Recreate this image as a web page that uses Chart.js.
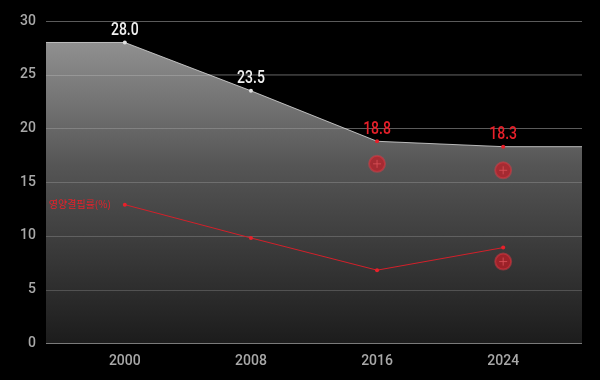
<!DOCTYPE html>
<html><head><meta charset="utf-8">
<script src="https://cdn.jsdelivr.net/npm/chart.js@4/dist/chart.umd.min.js"></script>
<style>html,body{margin:0;padding:0;background:#000;}#wrap{width:600px;height:380px;}</style>
</head><body><div id="wrap"><canvas id="c" width="600" height="380"></canvas></div>
<script>
const years = [2000, 2008, 2016, 2024];
const areaValues = [28.0, 23.5, 18.8, 18.3];
const areaLabels = ['28.0', '23.5', '18.8', '18.3'];
const redValues = [12.9, 9.8, 6.8, 8.9];
const redLineLabel = '영양결핍률(%)';
const markerYears = [2016, 2024, 2024];
const markerValues = [16.7, 16.1, 7.6];
const yTicks = [0, 5, 10, 15, 20, 25, 30];

const FONT = 'Roboto, "DejaVu Sans", sans-serif';

const areaPlugin = {
  id: 'areaPlugin',
  beforeDatasetsDraw(chart) {
    const {ctx, chartArea, scales} = chart;
    const x = scales.x, y = scales.y;
    const pts = years.map((yr, i) => [x.getPixelForValue(yr), y.getPixelForValue(areaValues[i])]);
    const bottom = y.getPixelForValue(0);
    const grad = ctx.createLinearGradient(0, y.getPixelForValue(30), 0, bottom);
    grad.addColorStop(0, '#9a9a9a');
    grad.addColorStop(0.45, '#555555');
    grad.addColorStop(1, '#1c1c1c');
    ctx.save();
    ctx.beginPath();
    ctx.moveTo(chartArea.left, bottom);
    ctx.lineTo(chartArea.left, pts[0][1]);
    pts.forEach(p => ctx.lineTo(p[0], p[1]));
    ctx.lineTo(chartArea.right, pts[pts.length - 1][1]);
    ctx.lineTo(chartArea.right, bottom);
    ctx.closePath();
    ctx.fillStyle = grad;
    ctx.fill();
    ctx.beginPath();
    ctx.moveTo(chartArea.left, pts[0][1]);
    pts.forEach(p => ctx.lineTo(p[0], p[1]));
    ctx.lineTo(chartArea.right, pts[pts.length - 1][1]);
    ctx.strokeStyle = 'rgba(220,220,220,0.8)';
    ctx.lineWidth = 1;
    ctx.stroke();
    ctx.beginPath();
    ctx.rect(chartArea.left, chartArea.top, chartArea.width, bottom - chartArea.top);
    ctx.clip();
    yTicks.forEach(t => {
      if (t === 0) return;
      const py = Math.round(y.getPixelForValue(t)) + 0.5;
      ctx.beginPath();
      ctx.moveTo(chartArea.left, py);
      ctx.lineTo(chartArea.right, py);
      ctx.strokeStyle = 'rgba(255,255,255,0.18)';
      ctx.lineWidth = 1;
      ctx.stroke();
    });
    ctx.restore();
  },
  afterDatasetsDraw(chart) {
    const {ctx, scales} = chart;
    const x = scales.x, y = scales.y;
    ctx.save();
    ctx.font = '500 18px ' + FONT;
    ctx.textAlign = 'center';
    ctx.textBaseline = 'bottom';
    years.forEach((yr, i) => {
      ctx.save();
      ctx.translate(x.getPixelForValue(yr), y.getPixelForValue(areaValues[i]) - 3);
      ctx.scale(0.78, 1);
      ctx.fillStyle = i < 2 ? '#f0f0f0' : '#e8202a';
      ctx.fillText(areaLabels[i], 0, 0);
      ctx.restore();
    });
    ctx.font = '10px "Noto Sans CJK KR", sans-serif';
    ctx.textAlign = 'right';
    ctx.textBaseline = 'middle';
    ctx.fillStyle = '#e8202a';
    ctx.fillText(redLineLabel, x.getPixelForValue(years[0]) - 14, y.getPixelForValue(redValues[0]));
    ctx.restore();
  }
};

new Chart(document.getElementById('c'), {
  type: 'line',
  data: {
    datasets: [
      {
        data: years.map((yr, i) => ({x: yr, y: areaValues[i]})),
        showLine: false,
        pointRadius: 2,
        pointBackgroundColor: areaValues.map((v, i) => i < 2 ? '#e0e0e0' : '#e8202a'),
        pointBorderWidth: 0
      },
      {
        data: years.map((yr, i) => ({x: yr, y: redValues[i]})),
        borderColor: '#d3202a',
        borderWidth: 1,
        pointRadius: 2,
        pointBackgroundColor: '#e8202a',
        pointBorderWidth: 0,
        tension: 0
      },
      {
        data: markerYears.map((yr, i) => ({x: yr, y: markerValues[i]})),
        showLine: false,
        pointRadius: 8,
        pointBackgroundColor: 'rgba(200,25,35,0.7)',
        pointBorderColor: 'rgba(230,60,70,0.45)',
        pointBorderWidth: 2
      },
      {
        data: markerYears.map((yr, i) => ({x: yr, y: markerValues[i]})),
        showLine: false,
        pointStyle: 'cross',
        pointRadius: 4,
        pointBorderColor: 'rgba(255,200,200,0.85)',
        pointBorderWidth: 1
      }
    ]
  },
  options: {
    responsive: false,
    animation: false,
    layout: {padding: {top: 21, right: 18, bottom: 0, left: 0}},
    plugins: {legend: {display: false}, tooltip: {enabled: false}},
    scales: {
      x: {
        type: 'linear',
        min: 1995,
        max: 2029,
        afterBuildTicks(s) { s.ticks = years.map(v => ({value: v})); },
        grid: {display: false, drawTicks: false},
        border: {display: false},
        ticks: {color: '#a8a8a8', font: {family: FONT, size: 14, weight: '500'}, padding: 10,
          callback: v => String(v)}
      },
      y: {
        min: 0,
        max: 30,
        afterBuildTicks(s) { s.ticks = yTicks.map(v => ({value: v})); },
        afterFit(s) { s.width = 46; },
        grid: {
          color: ctx => ctx.tick && ctx.tick.value === 0 ? '#9a9a9a' : 'rgba(255,255,255,0.22)',
          lineWidth: ctx => ctx.tick && ctx.tick.value === 0 ? 2 : 1,
          drawTicks: false
        },
        border: {display: false},
        ticks: {color: '#a8a8a8', font: {family: FONT, size: 14, weight: '500'}, padding: 10}
      }
    }
  },
  plugins: [areaPlugin]
});
</script>
</body></html>
